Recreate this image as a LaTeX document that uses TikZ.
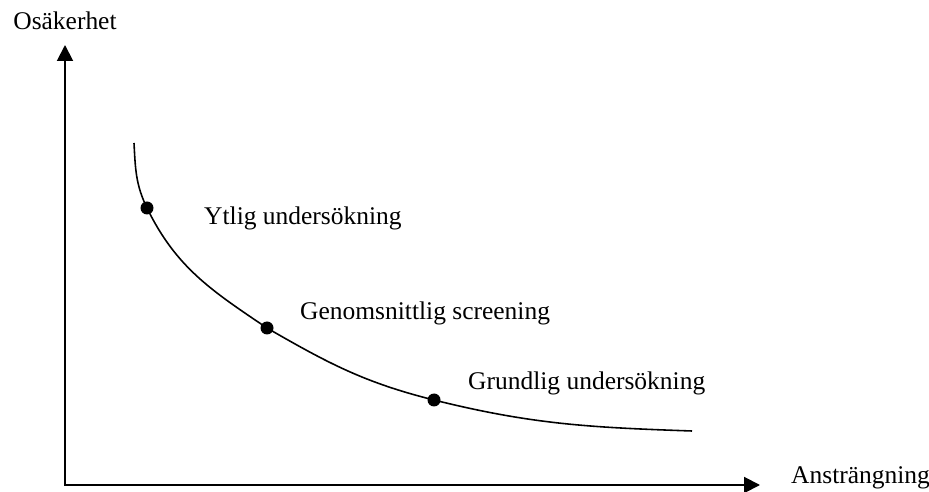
\documentclass[tikz,border=0pt]{standalone}
\usepackage{fontspec}
\setmainfont{Liberation Serif}
\usetikzlibrary{arrows.meta, positioning}

\begin{document}
\begin{tikzpicture}[x=0.02cm, y=-0.02cm,
  axis/.style={line width=1.1pt, {Triangle[length=9pt,width=9pt]}-{Triangle[length=9pt,width=9pt]}},
  pointdot/.style={circle, fill=black, inner sep=0pt, minimum size=0.26cm},
  pointlabel/.style={anchor=west, font=\fontsize{14.5}{17}\selectfont}]
  \useasboundingbox (0,0) rectangle (929,492);

  % axlar
  \coordinate (origin) at (65,485);
  \coordinate (ytip) at (65,45);
  \coordinate (xtip) at (760,485);
  \draw[axis, line join=miter] (ytip) -- (origin) -- (xtip);
  \node[pointlabel, anchor=center] (ylabel) at (65,21) {Osäkerhet};
  \node[pointlabel] (xlabel) at (785,478) {Ansträngning};

  % kurvans punkter
  \coordinate (start) at (134,143);
  \node[pointdot] (ytlig) at (147,208) {};
  \node[pointdot] (medel) at (267,328) {};
  \node[pointdot] (grund) at (434,400) {};
  \coordinate (slut) at (692,431);

  \draw[line width=0.9pt]
    (start) to[out=-87,in=116] (ytlig.center)
    to[out=-64,in=146] (medel.center)
    to[out=-30,in=166] (grund.center)
    to[out=-14,in=178] (slut);

  % etiketter
  \node[pointlabel] (ytliglabel) at (198,218) {Ytlig undersökning};
  \node[pointlabel] (medellabel) at (294,313) {Genomsnittlig screening};
  \node[pointlabel] (grundlabel) at (462,383) {Grundlig undersökning};
\end{tikzpicture}
\end{document}
